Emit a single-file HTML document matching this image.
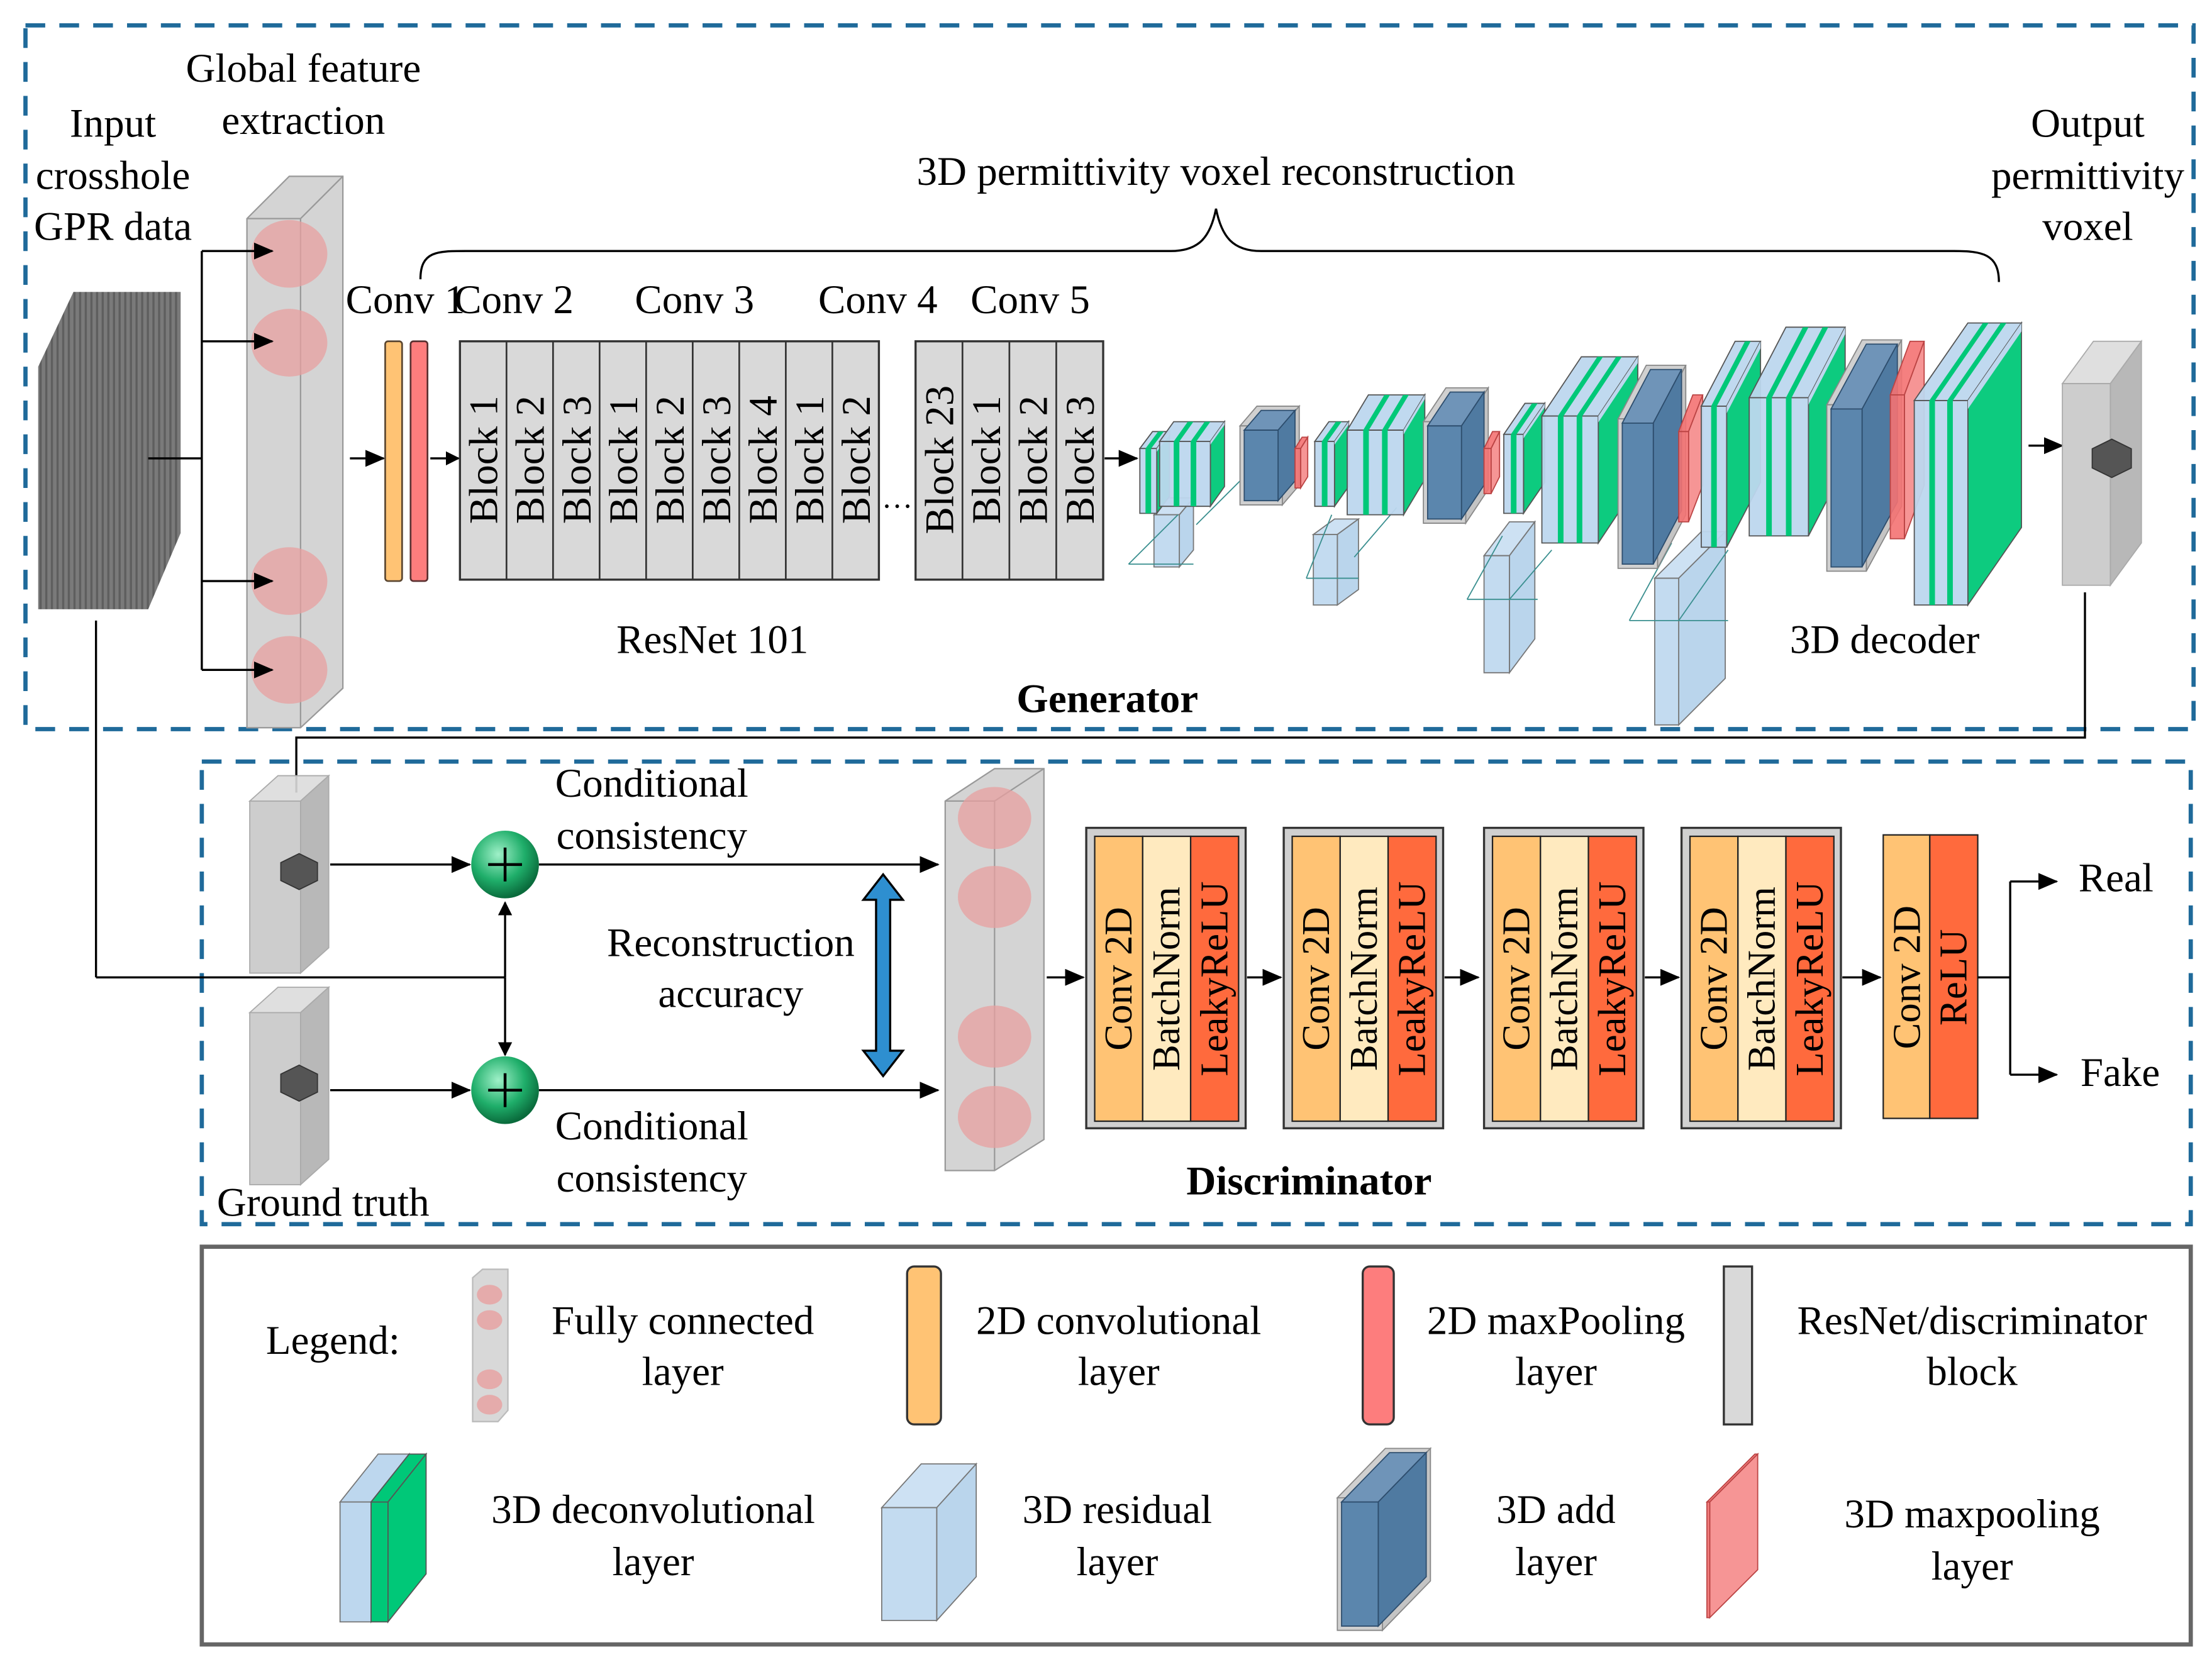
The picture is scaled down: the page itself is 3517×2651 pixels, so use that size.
<!DOCTYPE html>
<html><head><meta charset="utf-8"><style>
html,body{margin:0;padding:0;background:#fff;}
svg{display:block;}
text{font-family:"Liberation Serif",serif;fill:#000;}
</style></head><body>
<svg id="s" width="3517" height="2651" viewBox="0 0 1568 1182" xmlns="http://www.w3.org/2000/svg" font-family="Liberation Serif, serif">
<defs>
<marker id="ar" markerWidth="10" markerHeight="10" refX="9" refY="5" orient="auto" markerUnits="userSpaceOnUse"><path d="M0,0 L10,5 L0,10 z" fill="#000"/></marker>
<marker id="ar2" markerWidth="14" markerHeight="12" refX="13" refY="6" orient="auto" markerUnits="userSpaceOnUse"><path d="M0,0 L14,6 L0,12 z" fill="#000"/></marker>
<radialGradient id="gc" cx="40%" cy="35%" r="65%"><stop offset="0" stop-color="#9ff0c8"/><stop offset="0.6" stop-color="#1fae6a"/><stop offset="1" stop-color="#0a6b3c"/></radialGradient>
<pattern id="stripes" width="4" height="4" patternUnits="userSpaceOnUse"><rect width="4" height="4" fill="#7a7a7a"/><rect width="1.5" height="4" fill="#5e5e5e"/></pattern>
</defs>
<rect width="1568" height="1182" fill="#fff"/>

<rect x="18" y="18" width="1537" height="499" fill="none" stroke="#1f6a9a" stroke-width="3" stroke-dasharray="14,10"/>
<rect x="143" y="540" width="1410" height="328" fill="none" stroke="#1f6a9a" stroke-width="3" stroke-dasharray="14,10"/>
<rect x="143" y="884" width="1410" height="282" fill="none" stroke="#666" stroke-width="3"/>

<polygon points="27,260 52,207 128,207 128,378 105,432 27,432" fill="url(#stripes)"/>
<line x1="105" y1="325" x2="143" y2="325" stroke="#000" stroke-width="1.5"/>
<line x1="68" y1="440" x2="68" y2="693" stroke="#000" stroke-width="1.5"/>
<polyline points="68,693 358,693" fill="none" stroke="#000" stroke-width="1.5"/>

<g id="fc1">
<polygon points="175,155 205,125 243,125 243,488 213,516 175,516" fill="#d4d4d4" stroke="#999" stroke-width="1"/>
<line x1="213" y1="155" x2="213" y2="516" stroke="#999"/>
<line x1="175" y1="155" x2="213" y2="155" stroke="#999"/>
<line x1="213" y1="155" x2="243" y2="125" stroke="#999"/>
<ellipse cx="205" cy="180" rx="27" ry="24" fill="#e8a0a0" opacity="0.75"/>
<ellipse cx="205" cy="243" rx="27" ry="24" fill="#e8a0a0" opacity="0.75"/>
<ellipse cx="205" cy="412" rx="27" ry="24" fill="#e8a0a0" opacity="0.75"/>
<ellipse cx="205" cy="475" rx="27" ry="24" fill="#e8a0a0" opacity="0.75"/>
</g>
<line x1="143" y1="178" x2="143" y2="475" stroke="#000" stroke-width="1.5"/>
<line x1="143" y1="178" x2="193" y2="178" stroke="#000" stroke-width="1.5" marker-end="url(#ar2)"/>
<line x1="143" y1="242" x2="193" y2="242" stroke="#000" stroke-width="1.5" marker-end="url(#ar2)"/>
<line x1="143" y1="412" x2="193" y2="412" stroke="#000" stroke-width="1.5" marker-end="url(#ar2)"/>
<line x1="143" y1="475" x2="193" y2="475" stroke="#000" stroke-width="1.5" marker-end="url(#ar2)"/>

<line x1="248" y1="325" x2="272" y2="325" stroke="#000" stroke-width="1.5" marker-end="url(#ar2)"/>
<rect x="273" y="242" width="12" height="170" rx="2" fill="#ffc374" stroke="#5a4630" stroke-width="1.2"/>
<rect x="291" y="242" width="12" height="170" rx="2" fill="#fd7d7d" stroke="#5a3030" stroke-width="1.2"/>
<line x1="305" y1="325" x2="325" y2="325" stroke="#000" stroke-width="1.5" marker-end="url(#ar)"/>

<g id="blocks"></g>
<text x="636" y="360" font-size="22" text-anchor="middle">…</text>
<line x1="783" y1="325" x2="806" y2="325" stroke="#000" stroke-width="1.5" marker-end="url(#ar2)"/>

<g font-size="29">
<text x="245" y="222">Conv 1</text>
<text x="322" y="222">Conv 2</text>
<text x="450" y="222">Conv 3</text>
<text x="580" y="222">Conv 4</text>
<text x="688" y="222">Conv 5</text>
<text x="862" y="131" text-anchor="middle">3D permittivity voxel reconstruction</text>
<text x="505" y="463" text-anchor="middle">ResNet 101</text>
<text x="1336" y="463" text-anchor="middle">3D decoder</text>
<text x="785" y="505" text-anchor="middle" font-weight="bold">Generator</text>
<text x="80" y="97" text-anchor="middle">Input</text>
<text x="80" y="134" text-anchor="middle">crosshole</text>
<text x="80" y="170" text-anchor="middle">GPR data</text>
<text x="215" y="58" text-anchor="middle">Global feature</text>
<text x="215" y="95" text-anchor="middle">extraction</text>
<text x="1480" y="97" text-anchor="middle">Output</text>
<text x="1480" y="134" text-anchor="middle">permittivity</text>
<text x="1480" y="170" text-anchor="middle">voxel</text>
</g>
<path d="M298,198 C298,178 310,178 330,178 L830,178 C850,178 858,168 862,148 C866,168 874,178 894,178 L1385,178 C1405,178 1417,180 1417,200" fill="none" stroke="#000" stroke-width="1.5"/>

<g id="dec"></g>

<line x1="1438" y1="316" x2="1462" y2="316" stroke="#000" stroke-width="1.5" marker-end="url(#ar2)"/>
<g id="vox1"></g>
<polyline points="1478,420 1478,523 210,523 210,562" fill="none" stroke="#000" stroke-width="1.5"/>

<g id="vox2"></g><g id="vox3"></g>
<line x1="234" y1="613" x2="333" y2="613" stroke="#000" stroke-width="1.5" marker-end="url(#ar2)"/>
<line x1="234" y1="773" x2="333" y2="773" stroke="#000" stroke-width="1.5" marker-end="url(#ar2)"/>
<line x1="358" y1="693" x2="358" y2="640" stroke="#000" stroke-width="1.5" marker-end="url(#ar)"/>
<line x1="358" y1="693" x2="358" y2="748" stroke="#000" stroke-width="1.5" marker-end="url(#ar)"/>
<circle cx="358" cy="613" r="24" fill="url(#gc)"/>
<circle cx="358" cy="773" r="24" fill="url(#gc)"/>
<path d="M346,613 h24 M358,601 v24 M346,773 h24 M358,761 v24" stroke="#000" stroke-width="2"/>
<line x1="382" y1="613" x2="665" y2="613" stroke="#000" stroke-width="1.5" marker-end="url(#ar2)"/>
<line x1="382" y1="773" x2="665" y2="773" stroke="#000" stroke-width="1.5" marker-end="url(#ar2)"/>
<polygon points="626,620 640,638 631,638 631,745 640,745 626,763 612,745 621,745 621,638 612,638" fill="#2e8fd0" stroke="#000" stroke-width="1.5"/>

<g font-size="29">
<text x="462" y="565" text-anchor="middle">Conditional</text>
<text x="462" y="602" text-anchor="middle">consistency</text>
<text x="518" y="678" text-anchor="middle">Reconstruction</text>
<text x="518" y="714" text-anchor="middle">accuracy</text>
<text x="462" y="808" text-anchor="middle">Conditional</text>
<text x="462" y="845" text-anchor="middle">consistency</text>
<text x="229" y="862" text-anchor="middle">Ground truth</text>
<text x="928" y="847" text-anchor="middle" font-weight="bold">Discriminator</text>
<text x="1500" y="632" text-anchor="middle">Real</text>
<text x="1503" y="770" text-anchor="middle">Fake</text>
</g>

<polygon points="670,568 705,545 740,545 740,808 705,830 670,830" fill="#d4d4d4" stroke="#999" stroke-width="1"/>
<line x1="705" y1="568" x2="705" y2="830" stroke="#999"/>
<line x1="670" y1="568" x2="705" y2="568" stroke="#999"/>
<line x1="705" y1="568" x2="740" y2="545" stroke="#999"/>
<ellipse cx="705" cy="580" rx="26" ry="22" fill="#e8a0a0" opacity="0.75"/>
<ellipse cx="705" cy="636" rx="26" ry="22" fill="#e8a0a0" opacity="0.75"/>
<ellipse cx="705" cy="735" rx="26" ry="22" fill="#e8a0a0" opacity="0.75"/>
<ellipse cx="705" cy="792" rx="26" ry="22" fill="#e8a0a0" opacity="0.75"/>
<line x1="742" y1="693" x2="768" y2="693" stroke="#000" stroke-width="1.5" marker-end="url(#ar2)"/>
<g id="disc"></g>
<polyline points="1402,693 1425,693" fill="none" stroke="#000" stroke-width="1.5"/>
<line x1="1425" y1="625" x2="1425" y2="762" stroke="#000" stroke-width="1.5"/>
<line x1="1425" y1="625" x2="1458" y2="625" stroke="#000" stroke-width="1.5" marker-end="url(#ar2)"/>
<line x1="1425" y1="762" x2="1458" y2="762" stroke="#000" stroke-width="1.5" marker-end="url(#ar2)"/>

<g font-size="29">
<text x="236" y="960" text-anchor="middle">Legend:</text>
<text x="484" y="946" text-anchor="middle">Fully connected</text>
<text x="484" y="982" text-anchor="middle">layer</text>
<text x="793" y="946" text-anchor="middle">2D convolutional</text>
<text x="793" y="982" text-anchor="middle">layer</text>
<text x="1103" y="946" text-anchor="middle">2D maxPooling</text>
<text x="1103" y="982" text-anchor="middle">layer</text>
<text x="1398" y="946" text-anchor="middle">ResNet/discriminator</text>
<text x="1398" y="982" text-anchor="middle">block</text>
<text x="463" y="1080" text-anchor="middle">3D deconvolutional</text>
<text x="463" y="1117" text-anchor="middle">layer</text>
<text x="792" y="1080" text-anchor="middle">3D residual</text>
<text x="792" y="1117" text-anchor="middle">layer</text>
<text x="1103" y="1080" text-anchor="middle">3D add</text>
<text x="1103" y="1117" text-anchor="middle">layer</text>
<text x="1398" y="1083" text-anchor="middle">3D maxpooling</text>
<text x="1398" y="1120" text-anchor="middle">layer</text>
</g>
<polygon points="335,906 342,900 360,900 360,1000 353,1008 335,1008" fill="#d8d8d8" stroke="#bbb"/>
<ellipse cx="347" cy="918" rx="9" ry="7" fill="#e8a0a0" opacity="0.8"/>
<ellipse cx="347" cy="936" rx="9" ry="7" fill="#e8a0a0" opacity="0.8"/>
<ellipse cx="347" cy="978" rx="9" ry="7" fill="#e8a0a0" opacity="0.8"/>
<ellipse cx="347" cy="996" rx="9" ry="7" fill="#e8a0a0" opacity="0.8"/>
<rect x="643" y="898" width="24" height="112" rx="5" fill="#ffc374" stroke="#333" stroke-width="1.5"/>
<rect x="966" y="898" width="22" height="112" rx="5" fill="#fd7d7d" stroke="#333" stroke-width="1.5"/>
<rect x="1222" y="898" width="20" height="112" fill="#d9d9d9" stroke="#333" stroke-width="1.5"/>
<g id="leg2"></g>
</svg>
<script>
var NS="http://www.w3.org/2000/svg";
function el(parent,tag,attrs){var e=document.createElementNS(NS,tag);for(var k in attrs)e.setAttribute(k,attrs[k]);document.getElementById(parent).appendChild(e);return e;}
function poly(g,pts,fill,stroke,op){return el(g,"polygon",{points:pts.map(function(p){return p.join(",")}).join(" "),fill:fill,stroke:stroke||"#555","stroke-width":0.8,"fill-opacity":op==null?1:op});}
var labs1=["Block 1","Block 2","Block 3","Block 1","Block 2","Block 3","Block 4","Block 1","Block 2"];
el("blocks","rect",{x:326,y:242,width:297,height:169,fill:"#d9d9d9",stroke:"#333","stroke-width":1.5});
var w1=297/9;
for(var i=0;i<9;i++){ if(i>0) el("blocks","line",{x1:326+i*w1,y1:242,x2:326+i*w1,y2:411,stroke:"#333","stroke-width":1.2});
 var cx=326+i*w1+w1/2+10; var t=el("blocks","text",{x:0,y:0,"font-size":29,"text-anchor":"middle",transform:"translate("+cx+",326) rotate(-90)"}); t.textContent=labs1[i];}
var labs2=["Block 23","Block 1","Block 2","Block 3"];
el("blocks","rect",{x:649,y:242,width:133,height:169,fill:"#d9d9d9",stroke:"#333","stroke-width":1.5});
var w2=133/4;
for(var i=0;i<4;i++){ if(i>0) el("blocks","line",{x1:649+i*w2,y1:242,x2:649+i*w2,y2:411,stroke:"#333","stroke-width":1.2});
 var cx=649+i*w2+w2/2+10; var t=el("blocks","text",{x:0,y:0,"font-size":29,"text-anchor":"middle",transform:"translate("+cx+",326) rotate(-90)"}); t.textContent=labs2[i];}

var LB="#bdd7ee",GR="#00c878",DK="#5b86ad",RD="#f47272";
function box(g,x,y,w,h,dx,dy,front,top,side,op,stroke){
 poly(g,[[x,y],[x+dx,y-dy],[x+w+dx,y-dy],[x+w,y]],top,stroke,op);
 poly(g,[[x+w,y],[x+w+dx,y-dy],[x+w+dx,y+h-dy],[x+w,y+h]],side,stroke,op);
 poly(g,[[x,y],[x+w,y],[x+w,y+h],[x,y+h]],front,stroke,op);
}
function dc(g,x,y,w,h,dx,dy){
 box(g,x,y,w,h,dx,dy,LB,LB,GR,0.95);
 var n=Math.max(1,Math.round(w/18));
 for(var i=1;i<=n;i++){var sx=x+w*i/(n+1)-2; poly(g,[[sx,y],[sx+4,y],[sx+4,y+h],[sx,y+h]],GR,"none");
   poly(g,[[sx,y],[sx+dx,y-dy],[sx+dx+4,y-dy],[sx+4,y]],GR,"none");}
 poly(g,[[x+w,y],[x+w+dx,y-dy],[x+w+dx,y-dy+Math.min(6,h*0.05)],[x+w,y+Math.min(6,h*0.05)]],LB,"none");
}
function add(g,x,y,w,h,dx,dy){
 box(g,x-3,y-3,w+6,h+6,dx,dy,"#d0d0d0","#d0d0d0","#c4c4c4",1,"#888");
 box(g,x,y,w,h,dx,dy,DK,"#6f94b8","#4f7aa1",1,"#2d4d6d");
}
function mp(g,x,y,w,h,dx,dy){ box(g,x,y,w,h,dx,dy,RD,RD,"#f58a8a",0.9,"#b44"); }
function rb(g,x,y,w,h,dx,dy){ box(g,x,y,w,h,dx,dy,LB,"#c8def2","#b3d0ea",0.9,"#777"); }
rb("dec",818,365,18,37,10,12);
rb("dec",931,379,17,50,15,11);
rb("dec",1052,394,18,83,18,24);
rb("dec",1173,410,17,104,33,33);
var conn=[[800,400,835,365],[848,372,880,340],[926,410,944,365],[960,395,990,360],[1040,425,1065,380],[1070,425,1100,390],[1155,440,1185,385],[1190,440,1225,390]];
conn.forEach(function(c){el("dec","line",{x1:c[0],y1:c[1],x2:c[2],y2:c[3],stroke:"#3a8f8f","stroke-width":0.8});});
[[800,400,846,400],[926,410,963,410],[1040,425,1090,425],[1155,440,1225,440]].forEach(function(c){el("dec","line",{x1:c[0],y1:c[1],x2:c[2],y2:c[3],stroke:"#3a8f8f","stroke-width":0.8});});
dc("dec",808,318,12,46,9,12);
dc("dec",822,313,36,46,10,14);
add("dec",882,305,24,50,12,14);
mp("dec",918,318,4,28,5,8);
dc("dec",932,313,14,46,10,14);
dc("dec",955,305,40,60,15,25);
add("dec",1012,302,24,66,16,24);
mp("dec",1052,318,5,32,6,12);
dc("dec",1066,308,14,56,15,22);
dc("dec",1093,295,40,90,28,42);
add("dec",1150,300,22,100,20,38);
mp("dec",1190,306,7,64,10,26);
dc("dec",1206,288,18,100,24,46);
dc("dec",1240,282,42,98,26,50);
add("dec",1298,290,22,112,25,46);
mp("dec",1340,280,10,102,14,38);
dc("dec",1357,284,38,145,38,55);

function vox(g,x,y,w,h,dx,dy,hx,hy,r){
 box(g,x,y,w,h,dx,dy,"#c8c8c8","#dcdcdc","#b0b0b0",0.9,"#aaa");
 var pts=[];for(var i=0;i<6;i++){var a=Math.PI/3*i+Math.PI/6;pts.push([hx+r*Math.cos(a),hy+r*0.85*Math.sin(a)]);}
 poly(g,pts,"#555","#333");
}
vox("vox1",1462,272,34,143,22,30,1497,325,16);
vox("vox2",177,568,36,122,20,18,212,618,15);
vox("vox3",177,718,36,122,20,18,212,768,15);

var cols=["#ffc374","#ffeabf","#ff6a3d"];
var dl=["Conv 2D","BatchNorm","LeakyReLU"];
[770,910,1052,1192].forEach(function(bx,k){
 el("disc","rect",{x:bx,y:587,width:113,height:213,fill:"#d0d0d0",stroke:"#333","stroke-width":1.5});
 for(var i=0;i<3;i++){el("disc","rect",{x:bx+6+i*34,y:593,width:34,height:202,fill:cols[i],stroke:"#222","stroke-width":1});
  var t=el("disc","text",{x:0,y:0,"font-size":28,"text-anchor":"middle",transform:"translate("+(bx+6+i*34+26)+",694) rotate(-90)"});t.textContent=dl[i];}
 if(k<3) el("disc","line",{x1:bx+114,y1:693,x2:bx+138,y2:693,stroke:"#000","stroke-width":1.5,"marker-end":"url(#ar2)"});
});
el("disc","line",{x1:1306,y1:693,x2:1333,y2:693,stroke:"#000","stroke-width":1.5,"marker-end":"url(#ar2)"});
el("disc","rect",{x:1335,y:592,width:33,height:201,fill:"#ffc374",stroke:"#222","stroke-width":1});
el("disc","rect",{x:1368,y:592,width:34,height:201,fill:"#ff6a3d",stroke:"#222","stroke-width":1});
var t=el("disc","text",{x:0,y:0,"font-size":28,"text-anchor":"middle",transform:"translate(1361,693) rotate(-90)"});t.textContent="Conv 2D";
t=el("disc","text",{x:0,y:0,"font-size":28,"text-anchor":"middle",transform:"translate(1394,693) rotate(-90)"});t.textContent="ReLU";

// legend row 2 icons
box("leg2",241,1065,22,85,27,34,LB,LB,GR,1,"#777");
poly("leg2",[[263,1065],[275,1065],[275,1150],[263,1150]],GR,"#555");
poly("leg2",[[263,1065],[290,1031],[302,1031],[275,1065]],GR,"#555");
poly("leg2",[[275,1065],[302,1031],[302,1116],[275,1150]],GR,"#555");
rb("leg2",625,1069,39,80,28,31);
add("leg2",951,1065,26,88,34,35);
mp("leg2",1210,1065,2,82,34,34);
</script>
</body></html>
